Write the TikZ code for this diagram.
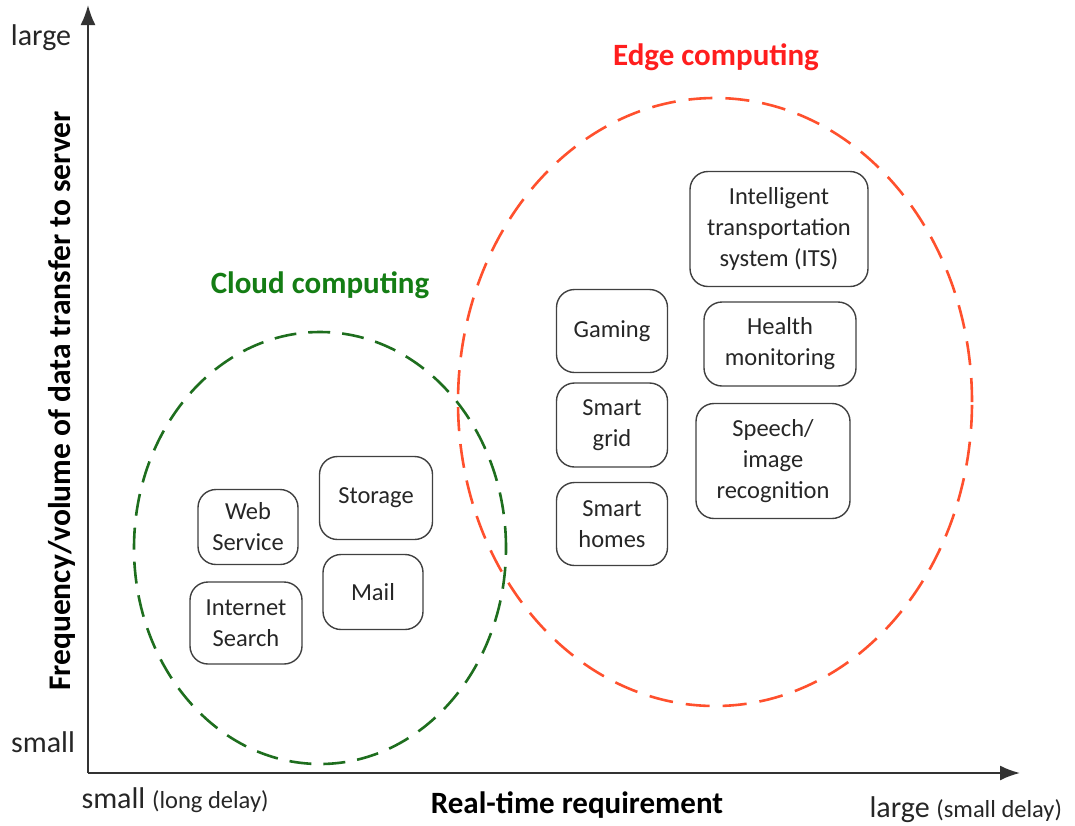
\documentclass[tikz,border=0pt]{standalone}
\usepackage{fontspec}
\setmainfont{Carlito}
\usepackage{xcolor}
\usetikzlibrary{arrows.meta}

\definecolor{edgered}{RGB}{255,30,30}
\definecolor{edgeline}{RGB}{255,80,45}
\definecolor{cloudgreen}{RGB}{20,125,20}
\definecolor{cloudline}{RGB}{30,110,30}

\begin{document}
\begin{tikzpicture}[x=1pt, y=-1pt,
	app/.style={draw=black!75, line width=1.4pt, rounded corners=18pt, align=center, inner sep=0pt, font=\fontsize{24.5}{31}\selectfont, text=black!85},
	axislabel/.style={font=\fontsize{30}{32}\selectfont, text=black!85}]
	\useasboundingbox (0,0) rectangle (1075,825);

	% axes
	\coordinate (o) at (88,773);
	\coordinate (ytip) at (88,5);
	\coordinate (xtip) at (1020,773);
	\draw[line width=2pt, black!80, -{Latex[length=20pt,width=15pt]}] (o) -- (ytip);
	\draw[line width=2pt, black!80, -{Latex[length=20pt,width=15pt]}] (o) -- (xtip);

	\node[axislabel](ylarge) at (41,38) {large};
	\node[axislabel](ysmall) at (43,742) {small};
	\node[axislabel, anchor=west](xsmall) at (78,800) {small {\fontsize{24.5}{26}\selectfont(long delay)}};
	\node[axislabel, anchor=west](xlarge) at (866,810) {large {\fontsize{24.5}{26}\selectfont(small delay)}};
	\node[font=\fontsize{31}{32}\selectfont\bfseries](xtitle) at (577,805) {Real-time requirement};
	\node[font=\fontsize{31.5}{32}\selectfont\bfseries, rotate=90](ytitle) at (62,401) {Frequency/volume of data transfer to server};

	% regions
	\draw[cloudline, line width=2.6pt, dash pattern=on 22pt off 12pt] (320,548) ellipse [x radius=186pt, y radius=216pt];
	\draw[edgeline, line width=2.6pt, dash pattern=on 24pt off 13pt] (715,402) ellipse [x radius=257pt, y radius=304pt];
	\node[text=cloudgreen, font=\fontsize{31}{32}\selectfont\bfseries](cloud) at (320,285) {Cloud computing};
	\node[text=edgered, font=\fontsize{31}{32}\selectfont\bfseries](edge) at (716,57) {Edge computing};

	% cloud applications
	\node[app, minimum width=100pt, minimum height=75pt](web) at (248,527) {Web\\Service};
	\node[app, minimum width=112pt, minimum height=82pt](search) at (246,623) {Internet\\Search};
	\node[app, minimum width=113pt, minimum height=83pt](storage) at (376,498) {Storage};
	\node[app, minimum width=100pt, minimum height=75pt](mail) at (373,592) {Mail};

	% edge applications
	\node[app, minimum width=111pt, minimum height=83pt](gaming) at (612,331) {Gaming};
	\node[app, minimum width=111pt, minimum height=84pt](grid) at (612,425) {Smart\\grid};
	\node[app, minimum width=111pt, minimum height=83pt](homes) at (612,524) {Smart\\homes};
	\node[app, minimum width=178pt, minimum height=115pt](its) at (779,229) {Intelligent\\transportation\\system (ITS)};
	\node[app, minimum width=152pt, minimum height=84pt](health) at (780,344) {Health\\monitoring};
	\node[app, minimum width=154pt, minimum height=115pt](speech) at (773,461) {Speech/\\image\\recognition};
\end{tikzpicture}
\end{document}
